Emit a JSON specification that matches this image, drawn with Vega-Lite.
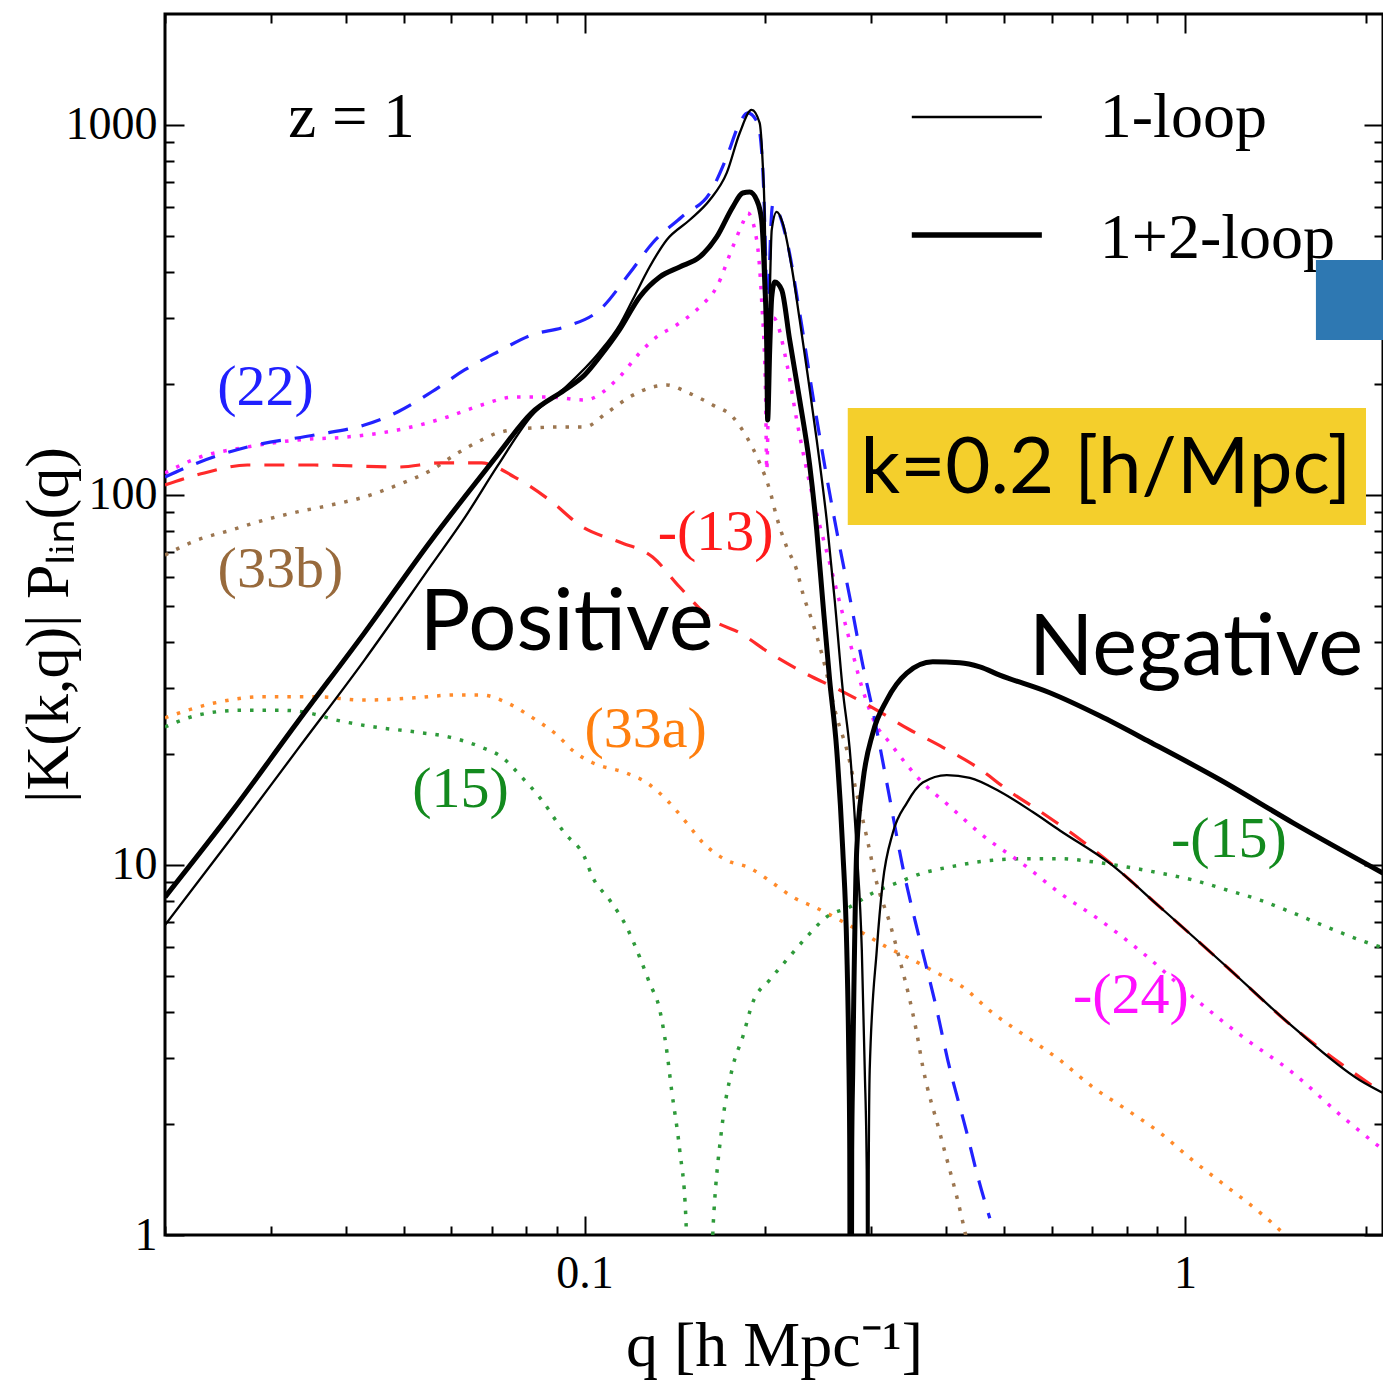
{
  "$schema": "https://vega.github.io/schema/vega-lite/v6.json",
  "width": 1218,
  "height": 1221,
  "autosize": {"type": "none"},
  "padding": {"left": 165, "top": 14, "right": 0, "bottom": 150},
  "background": "white",
  "config": {
    "view": {"stroke": "#000", "strokeWidth": 3},
    "axis": {
      "domain": false, "grid": false, "tickColor": "#000", "tickWidth": 2,
      "labelFont": "Liberation Serif", "labelFontSize": 46, "labelColor": "#000",
      "titleFont": "Liberation Serif", "titleFontWeight": "normal", "titleColor": "#000",
      "labelOverlap": false, "labelFlush": false
    }
  },
  "resolve": {"axis": {"x": "independent", "y": "independent"}},
  "datasets": {
    "curves": [
      {"s":"thin","q":0.02,"v":6.88},{"s":"thin","q":0.0258,"v":11.83},{"s":"thin","q":0.03323,"v":20.5},{"s":"thin","q":0.04298,"v":35.8},{"s":"thin","q":0.05559,"v":64.7},{"s":"thin","q":0.0631,"v":86.7},{"s":"thin","q":0.07161,"v":119.8},{"s":"thin","q":0.08158,"v":163.5},{"s":"thin","q":0.09261,"v":194.6},{"s":"thin","q":0.1059,"v":243.5},{"s":"thin","q":0.1143,"v":288},{"s":"thin","q":0.1202,"v":336.5},{"s":"thin","q":0.1283,"v":413.3},{"s":"thin","q":0.137,"v":489},{"s":"thin","q":0.1496,"v":553.6},{"s":"thin","q":0.1616,"v":627},{"s":"thin","q":0.1725,"v":742},{"s":"thin","q":0.1813,"v":951.5},{"s":"thin","q":0.1898,"v":1098},{"s":"thin","q":0.1957,"v":1013},{"s":"thin","q":0.198,"v":789.5},{"s":"thin","q":0.1995,"v":578.4},{"s":"thin","q":0.2011,"v":279.3},{"s":"thin","q":0.2018,"v":169.7},{"s":"thin","q":0.2034,"v":336.5},{"s":"thin","q":0.205,"v":520.3},{"s":"thin","q":0.2089,"v":582},{"s":"thin","q":0.2138,"v":543.4},{"s":"thin","q":0.2213,"v":413.3},{"s":"thin","q":0.2282,"v":297.2},{"s":"thin","q":0.2353,"v":211},{"s":"thin","q":0.2436,"v":140.8},{"s":"thin","q":0.2531,"v":85.6},{"s":"thin","q":0.261,"v":52.0},{"s":"thin","q":0.2692,"v":29.7},{"s":"thin","q":0.2765,"v":20.5},{"s":"thin","q":0.284,"v":10.98},{"s":"thin","q":0.2896,"v":5.89},{"s":"thin","q":0.2929,"v":2.79},{"s":"thin","q":0.2951,"v":1.5},{"s":"thin","q":0.2963,"v":0.05},{"s":"thin","q":0.2974,"v":1.5},{"s":"thin","q":0.2985,"v":2.79},{"s":"thin","q":0.3067,"v":5.89},{"s":"thin","q":0.3138,"v":8.94},{"s":"thin","q":0.3261,"v":12.2},{"s":"thin","q":0.3441,"v":14.7},{"s":"thin","q":0.3659,"v":16.7},{"s":"thin","q":0.4012,"v":17.5},{"s":"thin","q":0.4383,"v":17.2},{"s":"thin","q":0.4916,"v":15.8},{"s":"thin","q":0.558,"v":13.9},{"s":"thin","q":0.619,"v":12.4},{"s":"thin","q":0.7499,"v":10.1},{"s":"thin","q":0.9085,"v":7.7},{"s":"thin","q":1.175,"v":5.3},{"s":"thin","q":1.514,"v":3.65},{"s":"thin","q":1.957,"v":2.62},{"s":"thin","q":2.138,"v":2.42},

      {"s":"thick","q":0.02,"v":8.19},{"s":"thick","q":0.0258,"v":13.9},{"s":"thick","q":0.03323,"v":24.3},{"s":"thick","q":0.04298,"v":42.4},{"s":"thick","q":0.05559,"v":75.6},{"s":"thick","q":0.0631,"v":98.8},{"s":"thick","q":0.07161,"v":128.3},{"s":"thick","q":0.08158,"v":166.6},{"s":"thick","q":0.09261,"v":192.2},{"s":"thick","q":0.1,"v":211},{"s":"thick","q":0.1059,"v":236},{"s":"thick","q":0.1143,"v":279.3},{"s":"thick","q":0.1235,"v":342.9},{"s":"thick","q":0.1334,"v":388.3},{"s":"thick","q":0.144,"v":413.3},{"s":"thick","q":0.1555,"v":439.8},{"s":"thick","q":0.166,"v":498.2},{"s":"thick","q":0.1765,"v":600},{"s":"thick","q":0.1834,"v":655},{"s":"thick","q":0.1884,"v":659},{"s":"thick","q":0.1935,"v":627},{"s":"thick","q":0.1972,"v":553.6},{"s":"thick","q":0.1995,"v":381.2},{"s":"thick","q":0.2011,"v":251.2},{"s":"thick","q":0.2018,"v":159.5},{"s":"thick","q":0.2034,"v":246.6},{"s":"thick","q":0.205,"v":342.9},{"s":"thick","q":0.2074,"v":376.5},{"s":"thick","q":0.213,"v":358.2},{"s":"thick","q":0.2196,"v":262.4},{"s":"thick","q":0.2282,"v":180.6},{"s":"thick","q":0.2371,"v":120.5},{"s":"thick","q":0.2436,"v":80.4},{"s":"thick","q":0.2492,"v":52.0},{"s":"thick","q":0.256,"v":31.6},{"s":"thick","q":0.263,"v":20.5},{"s":"thick","q":0.2692,"v":10.98},{"s":"thick","q":0.2734,"v":5.89},{"s":"thick","q":0.2754,"v":3.16},{"s":"thick","q":0.2765,"v":1.7},{"s":"thick","q":0.2775,"v":0.05},{"s":"thick","q":0.2786,"v":1.7},{"s":"thick","q":0.2797,"v":2.79},{"s":"thick","q":0.284,"v":10.98},{"s":"thick","q":0.2907,"v":16.7},{"s":"thick","q":0.302,"v":22.7},{"s":"thick","q":0.3187,"v":27.9},{"s":"thick","q":0.3441,"v":33.0},{"s":"thick","q":0.3802,"v":35.4},{"s":"thick","q":0.4217,"v":35.2},{"s":"thick","q":0.4554,"v":34.3},{"s":"thick","q":0.4916,"v":32.6},{"s":"thick","q":0.5957,"v":29.2},{"s":"thick","q":0.7215,"v":25.3},{"s":"thick","q":0.8744,"v":21.5},{"s":"thick","q":1.144,"v":17.0},{"s":"thick","q":1.514,"v":13.0},{"s":"thick","q":2.138,"v":9.51},

      {"s":"22","q":0.02,"v":111.8},{"s":"22","q":0.02265,"v":122.1},{"s":"22","q":0.02743,"v":134.8},{"s":"22","q":0.03548,"v":145.3},{"s":"22","q":0.04298,"v":154.6},{"s":"22","q":0.0488,"v":167.6},{"s":"22","q":0.05559,"v":189.8},{"s":"22","q":0.0631,"v":217.7},{"s":"22","q":0.07161,"v":243.5},{"s":"22","q":0.08158,"v":270.6},{"s":"22","q":0.09261,"v":284.5},{"s":"22","q":0.1059,"v":316.2},{"s":"22","q":0.1189,"v":398},{"s":"22","q":0.1298,"v":479.9},{"s":"22","q":0.1451,"v":564},{"s":"22","q":0.1628,"v":667.3},{"s":"22","q":0.1725,"v":819.5},{"s":"22","q":0.1813,"v":1013},{"s":"22","q":0.1869,"v":1078},{"s":"22","q":0.1942,"v":1013},{"s":"22","q":0.198,"v":770},{"s":"22","q":0.2003,"v":431.6},{"s":"22","q":0.2018,"v":246.6},{"s":"22","q":0.2034,"v":431.6},{"s":"22","q":0.2058,"v":608},{"s":"22","q":0.2171,"v":489},{"s":"22","q":0.2282,"v":310.4},{"s":"22","q":0.2399,"v":186.3},{"s":"22","q":0.2531,"v":112},{"s":"22","q":0.2661,"v":72.4},{"s":"22","q":0.2765,"v":53.0},{"s":"22","q":0.2907,"v":34.7},{"s":"22","q":0.302,"v":26.2},{"s":"22","q":0.3187,"v":16.7},{"s":"22","q":0.3388,"v":9.88},{"s":"22","q":0.3617,"v":6.27},{"s":"22","q":0.3861,"v":4.06},{"s":"22","q":0.4027,"v":2.97},{"s":"22","q":0.4332,"v":1.89},{"s":"22","q":0.4502,"v":1.47},{"s":"22","q":0.4732,"v":1.11},

      {"s":"24","q":0.02,"v":114.7},{"s":"24","q":0.02265,"v":125.9},{"s":"24","q":0.02743,"v":134.8},{"s":"24","q":0.03323,"v":140.8},{"s":"24","q":0.04027,"v":143.5},{"s":"24","q":0.0488,"v":149.8},{"s":"24","q":0.05911,"v":162.5},{"s":"24","q":0.06735,"v":175.1},{"s":"24","q":0.07645,"v":184.0},{"s":"24","q":0.08676,"v":184.0},{"s":"24","q":0.1,"v":180.6},{"s":"24","q":0.1143,"v":208.4},{"s":"24","q":0.1235,"v":242},{"s":"24","q":0.1318,"v":267.3},{"s":"24","q":0.1423,"v":288},{"s":"24","q":0.1555,"v":322.2},{"s":"24","q":0.166,"v":364.9},{"s":"24","q":0.1765,"v":468},{"s":"24","q":0.1834,"v":543.4},{"s":"24","q":0.1869,"v":578.4},{"s":"24","q":0.1935,"v":489},{"s":"24","q":0.1972,"v":336.5},{"s":"24","q":0.2003,"v":180.6},{"s":"24","q":0.2011,"v":116.8},{"s":"24","q":0.2034,"v":279.3},{"s":"24","q":0.2065,"v":300.8},{"s":"24","q":0.2171,"v":227.4},{"s":"24","q":0.2256,"v":159.5},{"s":"24","q":0.2399,"v":98.8},{"s":"24","q":0.256,"v":65.5},{"s":"24","q":0.2734,"v":43.2},{"s":"24","q":0.2907,"v":29.7},{"s":"24","q":0.3043,"v":24.3},{"s":"24","q":0.3224,"v":21.4},{"s":"24","q":0.3617,"v":17.0},{"s":"24","q":0.4058,"v":14.4},{"s":"24","q":0.4554,"v":12.2},{"s":"24","q":0.5453,"v":9.88},{"s":"24","q":0.619,"v":8.4},{"s":"24","q":0.7215,"v":7.1},{"s":"24","q":0.8511,"v":5.78},{"s":"24","q":1.031,"v":4.4},{"s":"24","q":1.249,"v":3.43},{"s":"24","q":1.514,"v":2.74},{"s":"24","q":1.834,"v":2.08},{"s":"24","q":2.138,"v":1.7},

      {"s":"13","q":0.02,"v":106.4},{"s":"13","q":0.02326,"v":114.7},{"s":"13","q":0.02743,"v":120.5},{"s":"13","q":0.03548,"v":120.5},{"s":"13","q":0.0488,"v":119.0},{"s":"13","q":0.05777,"v":122.1},{"s":"13","q":0.06735,"v":122.1},{"s":"13","q":0.07645,"v":111.8},{"s":"13","q":0.08743,"v":96.9},{"s":"13","q":0.09924,"v":81.9},{"s":"13","q":0.1143,"v":74.6},{"s":"13","q":0.1298,"v":68.0},{"s":"13","q":0.144,"v":56.4},{"s":"13","q":0.1634,"v":45.9},{"s":"13","q":0.1813,"v":42.4},{"s":"13","q":0.2034,"v":37.4},{"s":"13","q":0.2344,"v":32.8},{"s":"13","q":0.2661,"v":29.7},{"s":"13","q":0.3067,"v":26.2},{"s":"13","q":0.3481,"v":23.2},{"s":"13","q":0.3951,"v":20.8},{"s":"13","q":0.4502,"v":18.4},{"s":"13","q":0.5108,"v":15.8},{"s":"13","q":0.5799,"v":13.8},{"s":"13","q":0.6607,"v":11.9},{"s":"13","q":0.7413,"v":10.3},{"s":"13","q":0.9085,"v":7.7},{"s":"13","q":1.175,"v":5.3},{"s":"13","q":1.514,"v":3.65},{"s":"13","q":2.138,"v":2.42},

      {"s":"33b","q":0.02,"v":68.8},{"s":"33b","q":0.02265,"v":75.6},{"s":"33b","q":0.0258,"v":80.4},{"s":"33b","q":0.02929,"v":85.6},{"s":"33b","q":0.03323,"v":90.0},{"s":"33b","q":0.03787,"v":94.0},{"s":"33b","q":0.04298,"v":98.8},{"s":"33b","q":0.0488,"v":106.4},{"s":"33b","q":0.05559,"v":116.8},{"s":"33b","q":0.06143,"v":129.8},{"s":"33b","q":0.06735,"v":140.8},{"s":"33b","q":0.07161,"v":147.1},{"s":"33b","q":0.08158,"v":151.7},{"s":"33b","q":0.09261,"v":152.7},{"s":"33b","q":0.1,"v":152.7},{"s":"33b","q":0.1088,"v":166.6},{"s":"33b","q":0.1189,"v":184.0},{"s":"33b","q":0.1298,"v":195.8},{"s":"33b","q":0.137,"v":198.3},{"s":"33b","q":0.1479,"v":189.8},{"s":"33b","q":0.1634,"v":175.1},{"s":"33b","q":0.1765,"v":162.5},{"s":"33b","q":0.1862,"v":143.5},{"s":"33b","q":0.1957,"v":122.1},{"s":"33b","q":0.2034,"v":103.2},{"s":"33b","q":0.2089,"v":87.2},{"s":"33b","q":0.2171,"v":72.4},{"s":"33b","q":0.2256,"v":62.7},{"s":"33b","q":0.2309,"v":54.3},{"s":"33b","q":0.2399,"v":45.1},{"s":"33b","q":0.2492,"v":36.5},{"s":"33b","q":0.263,"v":25.1},{"s":"33b","q":0.2734,"v":20.5},{"s":"33b","q":0.284,"v":15.6},{"s":"33b","q":0.2951,"v":11.9},{"s":"33b","q":0.3067,"v":8.94},{"s":"33b","q":0.3224,"v":6.97},{"s":"33b","q":0.335,"v":5.54},{"s":"33b","q":0.3481,"v":4.32},{"s":"33b","q":0.3575,"v":3.52},{"s":"33b","q":0.3659,"v":2.85},{"s":"33b","q":0.3906,"v":1.89},{"s":"33b","q":0.4266,"v":1.084},{"s":"33b","q":0.4348,"v":0.94},

      {"s":"33a","q":0.02,"v":25.0},{"s":"33a","q":0.02416,"v":27.4},{"s":"33a","q":0.02929,"v":28.5},{"s":"33a","q":0.03548,"v":28.5},{"s":"33a","q":0.04298,"v":27.9},{"s":"33a","q":0.05208,"v":28.3},{"s":"33a","q":0.06072,"v":28.8},{"s":"33a","q":0.06735,"v":28.8},{"s":"33a","q":0.07441,"v":27.4},{"s":"33a","q":0.08158,"v":25.1},{"s":"33a","q":0.08981,"v":22.5},{"s":"33a","q":0.09623,"v":20.2},{"s":"33a","q":0.1031,"v":18.9},{"s":"33a","q":0.1175,"v":17.7},{"s":"33a","q":0.1268,"v":16.7},{"s":"33a","q":0.137,"v":15.0},{"s":"33a","q":0.1479,"v":13.0},{"s":"33a","q":0.1573,"v":11.5},{"s":"33a","q":0.1725,"v":10.3},{"s":"33a","q":0.1884,"v":9.82},{"s":"33a","q":0.2058,"v":8.94},{"s":"33a","q":0.2222,"v":8.19},{"s":"33a","q":0.2436,"v":7.65},{"s":"33a","q":0.2661,"v":7.1},{"s":"33a","q":0.2907,"v":6.55},{"s":"33a","q":0.3187,"v":6.0},{"s":"33a","q":0.3521,"v":5.54},{"s":"33a","q":0.3861,"v":5.11},{"s":"33a","q":0.4217,"v":4.74},{"s":"33a","q":0.4786,"v":3.98},{"s":"33a","q":0.5453,"v":3.43},{"s":"33a","q":0.619,"v":2.97},{"s":"33a","q":0.7024,"v":2.51},{"s":"33a","q":0.8003,"v":2.18},{"s":"33a","q":0.9085,"v":1.89},{"s":"33a","q":1.031,"v":1.59},{"s":"33a","q":1.175,"v":1.35},{"s":"33a","q":1.334,"v":1.15},{"s":"33a","q":1.468,"v":1.0},{"s":"33a","q":1.525,"v":0.94},

      {"s":"15","q":0.02,"v":23.6},{"s":"15","q":0.02265,"v":25.4},{"s":"15","q":0.02681,"v":26.2},{"s":"15","q":0.03126,"v":26.2},{"s":"15","q":0.03454,"v":25.8},{"s":"15","q":0.03877,"v":24.6},{"s":"15","q":0.04467,"v":23.6},{"s":"15","q":0.05208,"v":22.9},{"s":"15","q":0.06072,"v":22.0},{"s":"15","q":0.06735,"v":20.8},{"s":"15","q":0.07272,"v":19.6},{"s":"15","q":0.07852,"v":17.3},{"s":"15","q":0.08479,"v":15.0},{"s":"15","q":0.09261,"v":12.2},{"s":"15","q":0.1,"v":10.5},{"s":"15","q":0.1031,"v":9.28},{"s":"15","q":0.1101,"v":8.04},{"s":"15","q":0.1175,"v":6.8},{"s":"15","q":0.1235,"v":5.64},{"s":"15","q":0.1283,"v":4.8},{"s":"15","q":0.1334,"v":4.06},{"s":"15","q":0.137,"v":3.16},{"s":"15","q":0.1396,"v":2.47},{"s":"15","q":0.144,"v":1.7},{"s":"15","q":0.1474,"v":1.13},{"s":"15","q":0.1537,"v":0.05},{"s":"15","q":0.1641,"v":1.13},{"s":"15","q":0.1691,"v":1.92},{"s":"15","q":0.1765,"v":2.85},{"s":"15","q":0.1834,"v":3.43},{"s":"15","q":0.1905,"v":4.24},{"s":"15","q":0.2034,"v":4.89},{"s":"15","q":0.2171,"v":5.54},{"s":"15","q":0.2344,"v":6.39},{"s":"15","q":0.2531,"v":7.24},{"s":"15","q":0.2765,"v":7.7},{"s":"15","q":0.302,"v":8.4},{"s":"15","q":0.3311,"v":8.94},{"s":"15","q":0.3659,"v":9.51},{"s":"15","q":0.4058,"v":9.88},{"s":"15","q":0.4786,"v":10.3},{"s":"15","q":0.5453,"v":10.4},{"s":"15","q":0.619,"v":10.4},{"s":"15","q":0.7024,"v":10.2},{"s":"15","q":0.8003,"v":9.88},{"s":"15","q":0.9085,"v":9.51},{"s":"15","q":1.031,"v":9.11},{"s":"15","q":1.175,"v":8.56},{"s":"15","q":1.334,"v":8.04},{"s":"15","q":1.514,"v":7.42},{"s":"15","q":1.724,"v":6.8},{"s":"15","q":1.957,"v":6.27},{"s":"15","q":2.138,"v":5.97}
    ]
  },
  "layer": [
    {
      "data": {"name": "curves"},
      "transform": [{"filter": "datum.s == '33a'"}],
      "mark": {"type": "line", "clip": true, "interpolate": "monotone", "color": "#ff8a2a", "strokeWidth": 3.5, "strokeDash": [3.5, 9], "strokeCap": "butt"},
      "encoding": {
        "x": {"field": "q", "type": "quantitative", "scale": {"type": "log", "domain": [0.02, 2.138], "nice": false}, "axis": null},
        "y": {"field": "v", "type": "quantitative", "scale": {"type": "log", "domain": [1, 1995], "nice": false}, "axis": null}
      }
    },
    {
      "data": {"name": "curves"},
      "transform": [{"filter": "datum.s == '15'"}],
      "mark": {"type": "line", "clip": true, "interpolate": "monotone", "color": "#2e9a3a", "strokeWidth": 3.5, "strokeDash": [3.5, 9], "strokeCap": "butt"},
      "encoding": {
        "x": {"field": "q", "type": "quantitative", "scale": {"type": "log", "domain": [0.02, 2.138], "nice": false}, "axis": null},
        "y": {"field": "v", "type": "quantitative", "scale": {"type": "log", "domain": [1, 1995], "nice": false}, "axis": null}
      }
    },
    {
      "data": {"name": "curves"},
      "transform": [{"filter": "datum.s == '33b'"}],
      "mark": {"type": "line", "clip": true, "interpolate": "monotone", "color": "#9c7650", "strokeWidth": 3.5, "strokeDash": [3.5, 9], "strokeCap": "butt"},
      "encoding": {
        "x": {"field": "q", "type": "quantitative", "scale": {"type": "log", "domain": [0.02, 2.138], "nice": false}, "axis": null},
        "y": {"field": "v", "type": "quantitative", "scale": {"type": "log", "domain": [1, 1995], "nice": false}, "axis": null}
      }
    },
    {
      "data": {"name": "curves"},
      "transform": [{"filter": "datum.s == '24'"}],
      "mark": {"type": "line", "clip": true, "interpolate": "monotone", "color": "#ff22ff", "strokeWidth": 3.5, "strokeDash": [3.5, 9], "strokeCap": "butt"},
      "encoding": {
        "x": {"field": "q", "type": "quantitative", "scale": {"type": "log", "domain": [0.02, 2.138], "nice": false}, "axis": null},
        "y": {"field": "v", "type": "quantitative", "scale": {"type": "log", "domain": [1, 1995], "nice": false}, "axis": null}
      }
    },
    {
      "data": {"name": "curves"},
      "transform": [{"filter": "datum.s == '13'"}],
      "mark": {"type": "line", "clip": true, "interpolate": "monotone", "color": "#ff2a2a", "strokeWidth": 3.2, "strokeDash": [20, 14]},
      "encoding": {
        "x": {"field": "q", "type": "quantitative", "scale": {"type": "log", "domain": [0.02, 2.138], "nice": false}, "axis": null},
        "y": {"field": "v", "type": "quantitative", "scale": {"type": "log", "domain": [1, 1995], "nice": false}, "axis": null}
      }
    },
    {
      "data": {"name": "curves"},
      "transform": [{"filter": "datum.s == '22'"}],
      "mark": {"type": "line", "clip": true, "interpolate": "monotone", "color": "#2222ff", "strokeWidth": 3.2, "strokeDash": [20, 14]},
      "encoding": {
        "x": {"field": "q", "type": "quantitative", "scale": {"type": "log", "domain": [0.02, 2.138], "nice": false}, "axis": null},
        "y": {"field": "v", "type": "quantitative", "scale": {"type": "log", "domain": [1, 1995], "nice": false}, "axis": null}
      }
    },
    {
      "data": {"name": "curves"},
      "transform": [{"filter": "datum.s == 'thin'"}],
      "mark": {"type": "line", "clip": true, "interpolate": "monotone", "color": "#000", "strokeWidth": 2.3},
      "encoding": {
        "x": {"field": "q", "type": "quantitative", "scale": {"type": "log", "domain": [0.02, 2.138], "nice": false},
          "axis": {"orient": "top", "labels": false, "title": null,
            "values": [0.02,0.03,0.04,0.05,0.06,0.07,0.08,0.09,0.1,0.2,0.3,0.4,0.5,0.6,0.7,0.8,0.9,1,2],
            "tickSize": {"condition": {"test": "datum.value == 0.1 || datum.value == 1", "value": -19}, "value": -9}}},
        "y": {"field": "v", "type": "quantitative", "scale": {"type": "log", "domain": [1, 1995], "nice": false},
          "axis": {"orient": "right", "labels": false, "title": null,
            "values": [1,2,3,4,5,6,7,8,9,10,20,30,40,50,60,70,80,90,100,200,300,400,500,600,700,800,900,1000],
            "tickSize": {"condition": {"test": "datum.value == 1 || datum.value == 10 || datum.value == 100 || datum.value == 1000", "value": -19}, "value": -9}}}
      }
    },
    {
      "data": {"name": "curves"},
      "transform": [{"filter": "datum.s == 'thick'"}],
      "mark": {"type": "line", "clip": true, "interpolate": "monotone", "color": "#000", "strokeWidth": 5},
      "encoding": {
        "x": {"field": "q", "type": "quantitative", "scale": {"type": "log", "domain": [0.02, 2.138], "nice": false},
          "axis": {"orient": "bottom",
            "values": [0.02,0.03,0.04,0.05,0.06,0.07,0.08,0.09,0.1,0.2,0.3,0.4,0.5,0.6,0.7,0.8,0.9,1,2],
            "labelExpr": "datum.value == 0.1 ? '0.1' : (datum.value == 1 ? '1' : '')",
            "tickSize": {"condition": {"test": "datum.value == 0.1 || datum.value == 1", "value": -19}, "value": -9},
            "labelPadding": 35,
            "title": "q [h Mpc⁻¹]", "titleFontSize": 64, "titlePadding": 8}},
        "y": {"field": "v", "type": "quantitative", "scale": {"type": "log", "domain": [1, 1995], "nice": false},
          "axis": {"orient": "left",
            "values": [1,2,3,4,5,6,7,8,9,10,20,30,40,50,60,70,80,90,100,200,300,400,500,600,700,800,900,1000],
            "labelExpr": "datum.value == 1 || datum.value == 10 || datum.value == 100 || datum.value == 1000 ? '' + datum.value : ''",
            "tickSize": {"condition": {"test": "datum.value == 1 || datum.value == 10 || datum.value == 100 || datum.value == 1000", "value": -19}, "value": -9},
            "labelPadding": 27,
            "title": "|K(k,q)| Pₗᵢₙ(q)", "titleFontSize": 62, "titlePadding": -15}}
      }
    },
    {
      "data": {"values": [{"q": 0.3508, "q2": 0.5777, "v": 1051, "w": "1-loop"}]},
      "mark": {"type": "rule", "color": "#000", "strokeWidth": 2.5},
      "encoding": {
        "x": {"field": "q", "type": "quantitative", "scale": {"type": "log", "domain": [0.02, 2.138], "nice": false}, "axis": null},
        "x2": {"field": "q2"},
        "y": {"field": "v", "type": "quantitative", "scale": {"type": "log", "domain": [1, 1995], "nice": false}, "axis": null}
      }
    },
    {
      "data": {"values": [{"q": 0.3508, "q2": 0.5777, "v": 504, "w": "1+2-loop"}]},
      "mark": {"type": "rule", "color": "#000", "strokeWidth": 5.5},
      "encoding": {
        "x": {"field": "q", "type": "quantitative", "scale": {"type": "log", "domain": [0.02, 2.138], "nice": false}, "axis": null},
        "x2": {"field": "q2"},
        "y": {"field": "v", "type": "quantitative", "scale": {"type": "log", "domain": [1, 1995], "nice": false}, "axis": null}
      }
    },
    {
      "data": {"values": [{"t": "z = 1", "q": 0.04089, "v": 928}]},
      "mark": {"type": "text", "font": "Liberation Serif", "fontSize": 63, "color": "#000", "baseline": "alphabetic", "align": "center"},
      "encoding": {
        "x": {"field": "q", "type": "quantitative", "scale": {"type": "log", "domain": [0.02, 2.138], "nice": false}, "axis": null},
        "y": {"field": "v", "type": "quantitative", "scale": {"type": "log", "domain": [1, 1995], "nice": false}, "axis": null},
        "text": {"field": "t"}
      }
    },
    {
      "data": {"values": [{"t": "1-loop", "q": 0.7215, "v": 928}, {"t": "1+2-loop", "q": 0.7215, "v": 437}]},
      "mark": {"type": "text", "font": "Liberation Serif", "fontSize": 64, "color": "#000", "baseline": "alphabetic", "align": "left"},
      "encoding": {
        "x": {"field": "q", "type": "quantitative", "scale": {"type": "log", "domain": [0.02, 2.138], "nice": false}, "axis": null},
        "y": {"field": "v", "type": "quantitative", "scale": {"type": "log", "domain": [1, 1995], "nice": false}, "axis": null},
        "text": {"field": "t"}
      }
    },
    {
      "data": {"values": [{"t": "(22)", "q": 0.0294, "v": 175.1}]},
      "mark": {"type": "text", "font": "Liberation Serif", "fontSize": 58, "color": "#2020ff", "baseline": "alphabetic", "align": "center"},
      "encoding": {
        "x": {"field": "q", "type": "quantitative", "scale": {"type": "log", "domain": [0.02, 2.138], "nice": false}, "axis": null},
        "y": {"field": "v", "type": "quantitative", "scale": {"type": "log", "domain": [1, 1995], "nice": false}, "axis": null},
        "text": {"field": "t"}
      }
    },
    {
      "data": {"values": [{"t": "(33b)", "q": 0.03114, "v": 56.4}]},
      "mark": {"type": "text", "font": "Liberation Serif", "fontSize": 58, "color": "#986a3c", "baseline": "alphabetic", "align": "center"},
      "encoding": {
        "x": {"field": "q", "type": "quantitative", "scale": {"type": "log", "domain": [0.02, 2.138], "nice": false}, "axis": null},
        "y": {"field": "v", "type": "quantitative", "scale": {"type": "log", "domain": [1, 1995], "nice": false}, "axis": null},
        "text": {"field": "t"}
      }
    },
    {
      "data": {"values": [{"t": "-(13)", "q": 0.1653, "v": 71.0}]},
      "mark": {"type": "text", "font": "Liberation Serif", "fontSize": 58, "color": "#ff1a1a", "baseline": "alphabetic", "align": "center"},
      "encoding": {
        "x": {"field": "q", "type": "quantitative", "scale": {"type": "log", "domain": [0.02, 2.138], "nice": false}, "axis": null},
        "y": {"field": "v", "type": "quantitative", "scale": {"type": "log", "domain": [1, 1995], "nice": false}, "axis": null},
        "text": {"field": "t"}
      }
    },
    {
      "data": {"values": [{"t": "(33a)", "q": 0.1264, "v": 20.8}]},
      "mark": {"type": "text", "font": "Liberation Serif", "fontSize": 58, "color": "#ff7f0e", "baseline": "alphabetic", "align": "center"},
      "encoding": {
        "x": {"field": "q", "type": "quantitative", "scale": {"type": "log", "domain": [0.02, 2.138], "nice": false}, "axis": null},
        "y": {"field": "v", "type": "quantitative", "scale": {"type": "log", "domain": [1, 1995], "nice": false}, "axis": null},
        "text": {"field": "t"}
      }
    },
    {
      "data": {"values": [{"t": "(15)", "q": 0.06213, "v": 14.35}, {"t": "-(15)", "q": 1.184, "v": 10.5}]},
      "mark": {"type": "text", "font": "Liberation Serif", "fontSize": 58, "color": "#138a1e", "baseline": "alphabetic", "align": "center"},
      "encoding": {
        "x": {"field": "q", "type": "quantitative", "scale": {"type": "log", "domain": [0.02, 2.138], "nice": false}, "axis": null},
        "y": {"field": "v", "type": "quantitative", "scale": {"type": "log", "domain": [1, 1995], "nice": false}, "axis": null},
        "text": {"field": "t"}
      }
    },
    {
      "data": {"values": [{"t": "-(24)", "q": 0.8128, "v": 3.98}]},
      "mark": {"type": "text", "font": "Liberation Serif", "fontSize": 58, "color": "#ff10ff", "baseline": "alphabetic", "align": "center"},
      "encoding": {
        "x": {"field": "q", "type": "quantitative", "scale": {"type": "log", "domain": [0.02, 2.138], "nice": false}, "axis": null},
        "y": {"field": "v", "type": "quantitative", "scale": {"type": "log", "domain": [1, 1995], "nice": false}, "axis": null},
        "text": {"field": "t"}
      }
    },
    {
      "data": {"values": [{"t": "Positive", "q": 0.09333, "v": 38.1}, {"t": "Negative", "q": 1.043, "v": 32.6}]},
      "mark": {"type": "text", "font": "Lato", "fontSize": 85, "color": "#000", "baseline": "alphabetic", "align": "center"},
      "encoding": {
        "x": {"field": "q", "type": "quantitative", "scale": {"type": "log", "domain": [0.02, 2.138], "nice": false}, "axis": null},
        "y": {"field": "v", "type": "quantitative", "scale": {"type": "log", "domain": [1, 1995], "nice": false}, "axis": null},
        "text": {"field": "t"}
      }
    },
    {
      "data": {"values": [{"q": 0.2744, "q2": 2.003, "v": 171.9, "v2": 82.98}]},
      "mark": {"type": "rect", "color": "#f4cf2c"},
      "encoding": {
        "x": {"field": "q", "type": "quantitative", "scale": {"type": "log", "domain": [0.02, 2.138], "nice": false}, "axis": null},
        "x2": {"field": "q2"},
        "y": {"field": "v", "type": "quantitative", "scale": {"type": "log", "domain": [1, 1995], "nice": false}, "axis": null},
        "y2": {"field": "v2"}
      }
    },
    {
      "data": {"values": [{"t": "k=0.2 [h/Mpc]", "q": 0.7386, "v": 101.3}]},
      "mark": {"type": "text", "font": "Lato", "fontSize": 78, "color": "#000", "baseline": "alphabetic", "align": "center"},
      "encoding": {
        "x": {"field": "q", "type": "quantitative", "scale": {"type": "log", "domain": [0.02, 2.138], "nice": false}, "axis": null},
        "y": {"field": "v", "type": "quantitative", "scale": {"type": "log", "domain": [1, 1995], "nice": false}, "axis": null},
        "text": {"field": "t"}
      }
    },
    {
      "data": {"values": [{"q": 1.653, "q2": 2.6, "v": 431.6, "v2": 262.4}]},
      "mark": {"type": "rect", "color": "#2e78b2", "clip": true},
      "encoding": {
        "x": {"field": "q", "type": "quantitative", "scale": {"type": "log", "domain": [0.02, 2.138], "nice": false}, "axis": null},
        "x2": {"field": "q2"},
        "y": {"field": "v", "type": "quantitative", "scale": {"type": "log", "domain": [1, 1995], "nice": false}, "axis": null},
        "y2": {"field": "v2"}
      }
    }
  ]
}
